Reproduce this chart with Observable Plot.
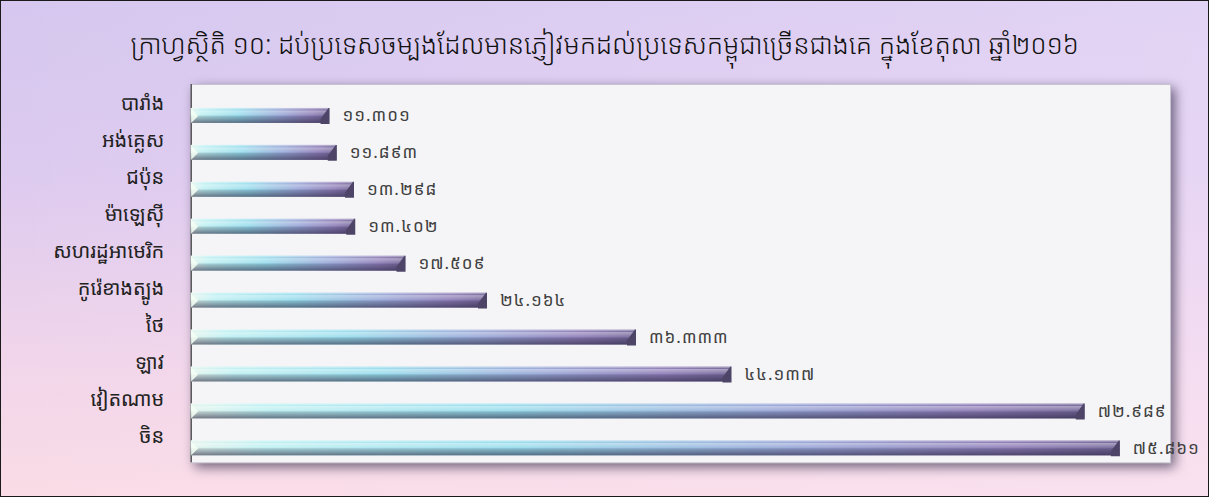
<!DOCTYPE html>
<html>
<head>
<meta charset="utf-8">
<script src="https://cdn.jsdelivr.net/npm/d3@7"></script>
<script src="https://cdn.jsdelivr.net/npm/@observablehq/plot@0.6"></script>
<style>
  html, body { margin: 0; padding: 0; background: #fff; }
  #wrap {
    position: relative; width: 1209px; height: 497px; box-sizing: border-box;
    border: 1px solid #1a1a1a; overflow: hidden;
    background:
      linear-gradient(to right, rgba(255,255,255,0) 0%, rgba(250,235,255,0.35) 100%),
      linear-gradient(to bottom, #d5c7ef 0%, #ddcaef 35%, #f2d6ea 75%, #fadce6 100%);
    font-family: "Noto Sans Khmer", "Khmer OS", "Khmer OS System", "Noto Sans", "DejaVu Sans", sans-serif;
  }
  #title {
    position: absolute; left: 0; top: 0; width: 100%; height: 84px;
    display: flex; align-items: center; justify-content: center;
    font-size: 26.7px; font-weight: 300; color: #111; letter-spacing: -0.2px;
  }
  #chart { position: absolute; left: 0; top: 75px; }
</style>
</head>
<body>
<div id="wrap">
  <div id="title">ក្រាហ្វស្ថិតិ ១០: ដប់ប្រទេសចម្បងដែលមានភ្ញៀវមកដល់ប្រទេសកម្ពុជាច្រើនជាងគេ ក្នុងខែតុលា ឆ្នាំ២០១៦</div>
  <div id="chart"></div>
</div>
<script>
const countries = ["បារាំង", "អង់គ្លេស", "ជប៉ុន", "ម៉ាឡេស៊ី", "សហរដ្ឋអាមេរិក", "កូរ៉េខាងត្បូង", "ថៃ", "ឡាវ", "វៀតណាម", "ចិន"];
const visitors = [11301, 11893, 13298, 13402, 17509, 24164, 36333, 44137, 72989, 75861];
const khmerDigits = ["០", "១", "២", "៣", "៤", "៥", "៦", "៧", "៨", "៩"];

const data = countries.map((c, i) => ({country: c, value: visitors[i]}));
const fmt = v => d3.format(",")(v).replace(/,/g, ".").replace(/[0-9]/g, d => khmerDigits[+d]);

const capRight = {
  draw(ctx) {
    ctx.moveTo(-1, -8); ctx.lineTo(0, -8); ctx.lineTo(0, 8); ctx.lineTo(-9, 8); ctx.lineTo(-9, 3); ctx.closePath();
  }
};
const capLeft = {
  draw(ctx) {
    ctx.moveTo(0, -7); ctx.lineTo(7, 0); ctx.lineTo(0, 7); ctx.closePath();
  }
};

const plot = Plot.plot({
  width: 1209,
  height: 422,
  marginLeft: 190,
  marginRight: 38,
  marginTop: 8,
  marginBottom: 35,
  style: {background: "transparent", overflow: "visible", fontFamily: "'Noto Sans Khmer', 'Khmer OS', 'Noto Sans', sans-serif"},
  x: {domain: [0, 80000], axis: null},
  y: {domain: countries, padding: 0, axis: null},
  marks: [
    Plot.frame({fill: "#f5f5f7", stroke: "#c8c4d0"}),
    Plot.ruleX([0], {stroke: "#3a3a3a", strokeWidth: 1.2}),
    Plot.barX(data, {x: "value", y: "country", insetTop: 19, insetBottom: 3, fill: "url(#barH)"}),
    Plot.barX(data, {x: "value", y: "country", insetTop: 19, insetBottom: 3, fill: "url(#barV)"}),
    Plot.dot(data, {x: "value", y: "country", dy: 8, symbol: capRight, r: 6, fill: "#4d4467", stroke: "none"}),
    Plot.dot(data, {x: () => 0, y: "country", dy: 8, symbol: capLeft, r: 6, fill: "#f4fff4", fillOpacity: 0.85, stroke: "none"}),
    Plot.text(data, {x: "value", y: "country", dy: 8, dx: 13, text: d => fmt(d.value), textAnchor: "start", fontSize: 17, fill: "#404040"}),
    Plot.axisY({tickSize: 0, tickPadding: 27, fontSize: 20, dy: -4, fill: "#222", label: null})
  ]
});

const svg = d3.select(plot);
const defs = svg.insert("defs", ":first-child");
const gh = defs.append("linearGradient").attr("id", "barH").attr("x1", 0).attr("x2", 1).attr("y1", 0).attr("y2", 0);
[["0%", "#e2f4ec"], ["8%", "#bdf0f2"], ["35%", "#96dcec"], ["65%", "#96a4d6"], ["88%", "#8a78b4"], ["100%", "#706296"]]
  .forEach(([o, c]) => gh.append("stop").attr("offset", o).attr("stop-color", c));
const gv = defs.append("linearGradient").attr("id", "barV").attr("x1", 0).attr("x2", 0).attr("y1", 0).attr("y2", 1);
[["0%", "#ffffff", 0.55], ["14%", "#ffffff", 0.05], ["20%", "#ffffff", 0.4], ["46%", "#ffffff", 0.12], ["56%", "#303048", 0.2], ["100%", "#28223c", 0.6]]
  .forEach(([o, c, a]) => gv.append("stop").attr("offset", o).attr("stop-color", c).attr("stop-opacity", a));

svg.selectAll('[aria-label="frame"]').style("filter", "drop-shadow(4px 4px 6px rgba(55,45,75,0.7))");
svg.selectAll('[aria-label="text"] text').style("letter-spacing", "1px");

document.getElementById("chart").appendChild(plot);
</script>
</body>
</html>
